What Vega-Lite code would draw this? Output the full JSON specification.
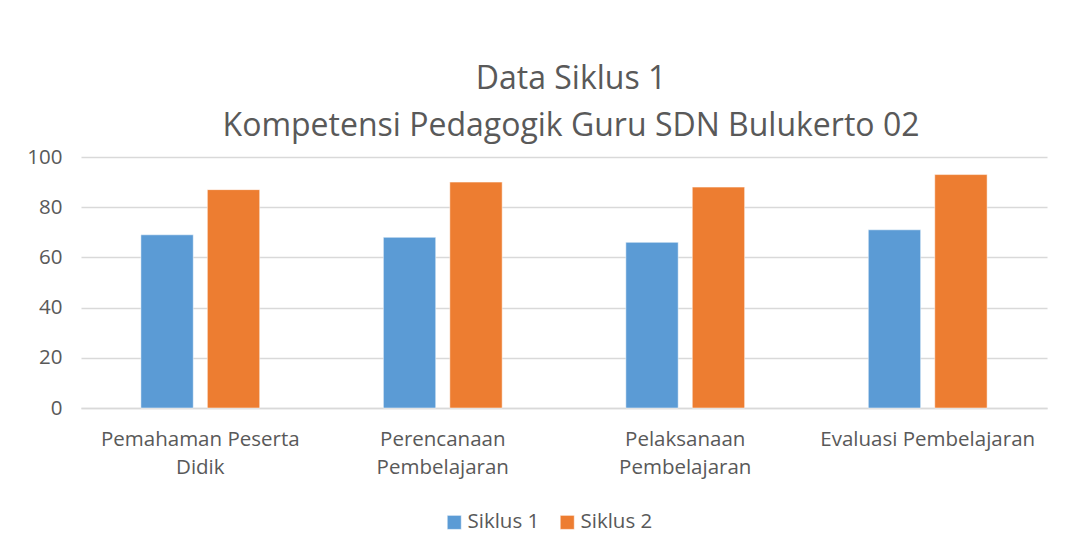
{
  "$schema": "https://vega.github.io/schema/vega-lite/v6.json",
  "autosize": {"type": "none"},
  "width": 966,
  "height": 251,
  "padding": {"left": 81, "top": 157, "right": 21, "bottom": 143},
  "background": "white",
  "title": {
    "text": ["Data Siklus 1", "Kompetensi Pedagogik Guru SDN Bulukerto 02"],
    "font": "Open Sans",
    "fontSize": 32,
    "fontWeight": "normal",
    "color": "#595959",
    "lineHeight": 47,
    "anchor": "middle",
    "offset": 4,
    "dx": 7
  },
  "data": {
    "values": [
      {"kategori": "Pemahaman Peserta Didik", "siklus": "Siklus 1", "nilai": 69},
      {"kategori": "Pemahaman Peserta Didik", "siklus": "Siklus 2", "nilai": 87},
      {"kategori": "Perencanaan Pembelajaran", "siklus": "Siklus 1", "nilai": 68},
      {"kategori": "Perencanaan Pembelajaran", "siklus": "Siklus 2", "nilai": 90},
      {"kategori": "Pelaksanaan Pembelajaran", "siklus": "Siklus 1", "nilai": 66},
      {"kategori": "Pelaksanaan Pembelajaran", "siklus": "Siklus 2", "nilai": 88},
      {"kategori": "Evaluasi Pembelajaran", "siklus": "Siklus 1", "nilai": 71},
      {"kategori": "Evaluasi Pembelajaran", "siklus": "Siklus 2", "nilai": 93}
    ]
  },
  "mark": {"type": "bar"},
  "encoding": {
    "x": {
      "field": "kategori",
      "type": "nominal",
      "sort": ["Pemahaman Peserta Didik", "Perencanaan Pembelajaran", "Pelaksanaan Pembelajaran", "Evaluasi Pembelajaran"],
      "scale": {"paddingInner": 0.51, "paddingOuter": 0.247},
      "axis": {
        "title": null,
        "labelAngle": 0,
        "labelLimit": 0,
        "labelExpr": "datum.value == 'Pemahaman Peserta Didik' ? ['Pemahaman Peserta', 'Didik'] : datum.value == 'Perencanaan Pembelajaran' ? ['Perencanaan', 'Pembelajaran'] : datum.value == 'Pelaksanaan Pembelajaran' ? ['Pelaksanaan', 'Pembelajaran'] : datum.value",
        "labelFont": "Open Sans",
        "labelFontSize": 20.5,
        "labelColor": "#595959",
        "labelLineHeight": 28,
        "labelPadding": 21,
        "labelBaseline": "top",
        "ticks": false,
        "domainColor": "#D9D9D9",
        "domainWidth": 1.5,
        "grid": false
      }
    },
    "xOffset": {
      "field": "siklus",
      "type": "nominal",
      "scale": {"paddingInner": 0.212, "paddingOuter": 0}
    },
    "y": {
      "field": "nilai",
      "type": "quantitative",
      "scale": {"domain": [0, 100]},
      "axis": {
        "title": null,
        "values": [0, 20, 40, 60, 80, 100],
        "labelFont": "Open Sans",
        "labelFontSize": 20.5,
        "labelColor": "#595959",
        "labelPadding": 19,
        "ticks": false,
        "domain": false,
        "gridColor": "#D9D9D9",
        "gridWidth": 1.5
      }
    },
    "color": {
      "field": "siklus",
      "type": "nominal",
      "scale": {"domain": ["Siklus 1", "Siklus 2"], "range": ["#5B9BD5", "#ED7D31"]},
      "legend": {
        "title": null,
        "orient": "none",
        "legendX": 363,
        "legendY": 355,
        "direction": "horizontal",
        "symbolType": "square",
        "symbolSize": 196,
        "symbolStrokeWidth": 0,
        "labelFont": "Open Sans",
        "labelFontSize": 20.5,
        "labelColor": "#595959",
        "labelOffset": 3,
        "columnPadding": 17
      }
    }
  },
  "config": {
    "view": {"stroke": null},
    "bar": {"stroke": "white", "strokeWidth": 0.5}
  }
}
